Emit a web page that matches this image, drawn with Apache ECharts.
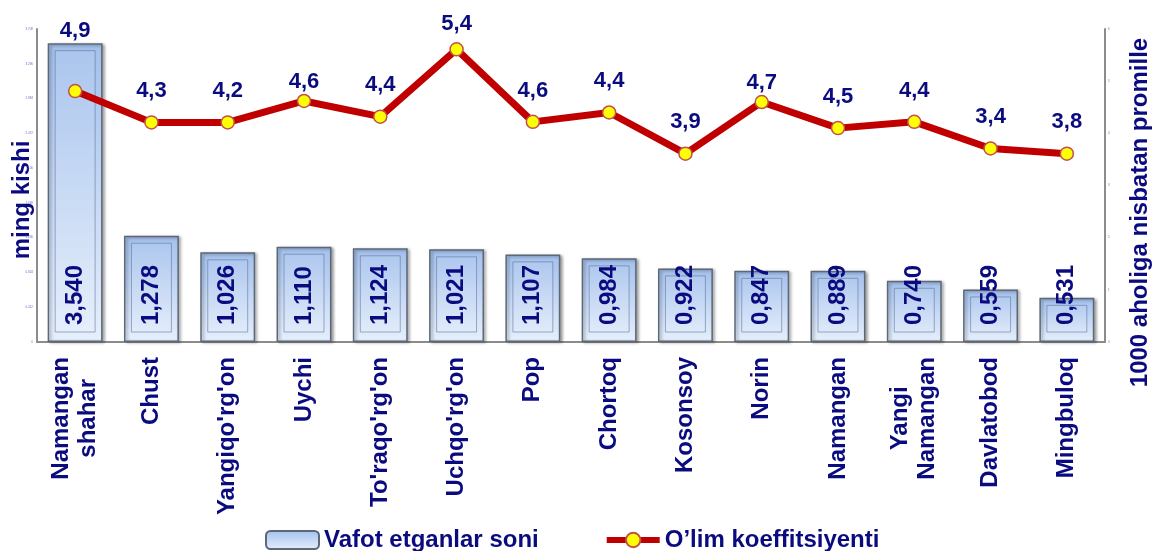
<!DOCTYPE html>
<html lang="uz">
<head>
<meta charset="UTF-8">
<title>Vafot etganlar soni</title>
<script src="https://cdn.jsdelivr.net/npm/echarts@6/dist/echarts.min.js"></script>
<style>
  html, body { margin: 0; padding: 0; background: #fff; }
  #main { width: 1160px; height: 551px; }
</style>
</head>
<body>
<div id="main"></div>
<script>
// tumanlar (categories)
var districts = ['Namangan\nshahar', 'Chust', "Yangiqo'rg'on", 'Uychi', "To'raqo'rg'on", "Uchqo'rg'on",
  'Pop', 'Chortoq', 'Kosonsoy', 'Norin', 'Namangan', 'Yangi\nNamangan', 'Davlatobod', 'Mingbuloq'];

// bar heights as drawn, ming kishi
var deaths = [3.540, 1.259, 1.062, 1.129, 1.110, 1.098, 1.038, 0.991, 0.872, 0.843, 0.843, 0.725, 0.622, 0.523];
// numbers printed on the bars
var deathLabels = ['3,540', '1,278', '1,026', '1,110', '1,124', '1,021', '1,107', '0,984', '0,922', '0,847',
  '0,889', '0,740', '0,559', '0,531'];

// line points as drawn, promille
var rate = [4.81, 4.21, 4.21, 4.62, 4.32, 5.61, 4.22, 4.40, 3.61, 4.60, 4.10, 4.22, 3.71, 3.61];
// numbers printed over the line
var rateLabels = ['4,9', '4,3', '4,2', '4,6', '4,4', '5,4', '4,6', '4,4', '3,9', '4,7', '4,5', '4,4', '3,4', '3,8'];

var NAVY = '#0b0b80';
var FONT = '"Liberation Sans", Arial, sans-serif';
var BAR_W = 0.72;

var myChart = echarts.init(document.getElementById('main'));

// inner bevel frame + rotated value text on each bar
function renderBevel(params, api) {
  var i = api.value(0);
  var v = api.value(1);
  var top = api.coord([i, v]);
  var base = api.coord([i, 0]);
  var bw = api.size([1, 0])[0] * BAR_W;
  var x0 = top[0] - bw / 2 + 7.5;
  var y0 = top[1] + 7.5;
  var h = Math.max(base[1] - 10 - y0, 0);
  return {
    type: 'group',
    children: [
      {
        type: 'rect',
        shape: { x: x0, y: y0, width: bw - 15, height: h },
        style: { fill: 'rgba(255,255,255,0.08)', stroke: 'rgba(90,110,145,0.55)', lineWidth: 1 }
      },
      {
        type: 'text',
        x: top[0],
        y: base[1] - 17,
        rotation: Math.PI / 2,
        style: {
          text: deathLabels[params.dataIndex],
          fill: NAVY,
          font: 'bold 24px ' + FONT,
          align: 'left',
          verticalAlign: 'middle'
        }
      }
    ]
  };
}

// label nudges for a few points (first one sits above the tall bar)
var labelNudge = { 0: -29, 3: 12, 5: 6, 9: 12 };
var lineData = rate.map(function (v, i) {
  var item = { value: v };
  if (labelNudge[i] !== undefined) {
    item.label = { offset: [0, labelNudge[i]] };
  }
  return item;
});

var option = {
  animation: false,
  grid: { left: 37, right: 55, top: 29, bottom: 209, outerBoundsMode: 'none', containLabel: false },
  // left axis title, set by hand so it hugs the axis line
  graphic: [{
    type: 'text',
    x: 22,
    y: 200,
    rotation: Math.PI / 2,
    style: {
      text: 'ming kishi',
      fill: NAVY,
      font: 'bold 24px ' + FONT,
      align: 'center',
      verticalAlign: 'middle'
    }
  }],
  legend: {
    left: 265,
    top: 528,
    padding: 0,
    itemWidth: 53,
    itemHeight: 18,
    itemGap: 65,
    data: [
      { name: 'Vafot etganlar soni' },
      { name: 'O’lim koeffitsiyenti', lineStyle: { width: 6 } }
    ],
    textStyle: { color: NAVY, fontSize: 24, fontWeight: 'bold', fontFamily: FONT }
  },
  xAxis: {
    type: 'category',
    data: districts,
    axisLine: { lineStyle: { color: '#8c8c8c', width: 2 } },
    axisTick: { length: 6, lineStyle: { color: '#8c8c8c', width: 1.5 } },
    axisLabel: {
      rotate: 90,
      margin: 15,
      interval: 0,
      formatter: function (val) {
        return val.split('\n').map(function (s) { return '{c|' + s + '}'; }).join('\n');
      },
      rich: {
        c: { align: 'center', color: NAVY, fontSize: 24, fontWeight: 'bold', fontFamily: FONT, lineHeight: 27 }
      }
    }
  },
  yAxis: [
    {
      type: 'value',
      min: 0,
      max: 3.708,
      interval: 0.412,
      axisLine: { show: true, lineStyle: { color: '#8c8c8c', width: 2 } },
      axisTick: { show: false },
      splitLine: { show: false },
      axisLabel: { fontSize: 3, margin: 4, color: '#6c6cc8' }
    },
    {
      type: 'value',
      min: 0,
      max: 6,
      interval: 1,
      name: '1000 aholiga nisbatan promille',
      nameLocation: 'middle',
      nameRotate: 90,
      nameGap: 23,
      nameTextStyle: { color: NAVY, fontSize: 24, fontWeight: 'bold', fontFamily: FONT, padding: [0, 54, 0, 0] },
      axisLine: { show: true, lineStyle: { color: '#8c8c8c', width: 2 } },
      axisTick: { show: false },
      splitLine: { show: false },
      axisLabel: { fontSize: 3, margin: 3, color: '#6c6cc8' }
    }
  ],
  series: [
    {
      name: 'Vafot etganlar soni',
      type: 'bar',
      yAxisIndex: 0,
      barWidth: (BAR_W * 100) + '%',
      data: deaths,
      z: 2,
      itemStyle: {
        color: new echarts.graphic.LinearGradient(0, 0, 0, 1, [
          { offset: 0, color: '#a3c0ec' },
          { offset: 1, color: '#e6effc' }
        ]),
        borderColor: '#5c6878',
        borderWidth: 1.5,
        shadowColor: 'rgba(0,0,0,0.35)',
        shadowBlur: 3,
        shadowOffsetX: 2,
        shadowOffsetY: 1
      }
    },
    {
      type: 'custom',
      yAxisIndex: 0,
      z: 3,
      silent: true,
      renderItem: renderBevel,
      encode: { x: 0, y: 1 },
      data: deaths.map(function (v, i) { return [i, v]; })
    },
    {
      name: 'O’lim koeffitsiyenti',
      type: 'line',
      yAxisIndex: 1,
      data: lineData,
      z: 5,
      symbol: 'circle',
      symbolSize: 13,
      lineStyle: { color: '#c00000', width: 7 },
      itemStyle: { color: '#ffff00', borderColor: '#c0504d', borderWidth: 1.5 },
      label: {
        show: true,
        position: 'top',
        distance: 13,
        color: NAVY,
        fontSize: 22,
        fontWeight: 'bold',
        fontFamily: FONT,
        formatter: function (p) { return rateLabels[p.dataIndex]; }
      }
    }
  ]
};

option && myChart.setOption(option);
</script>
</body>
</html>
